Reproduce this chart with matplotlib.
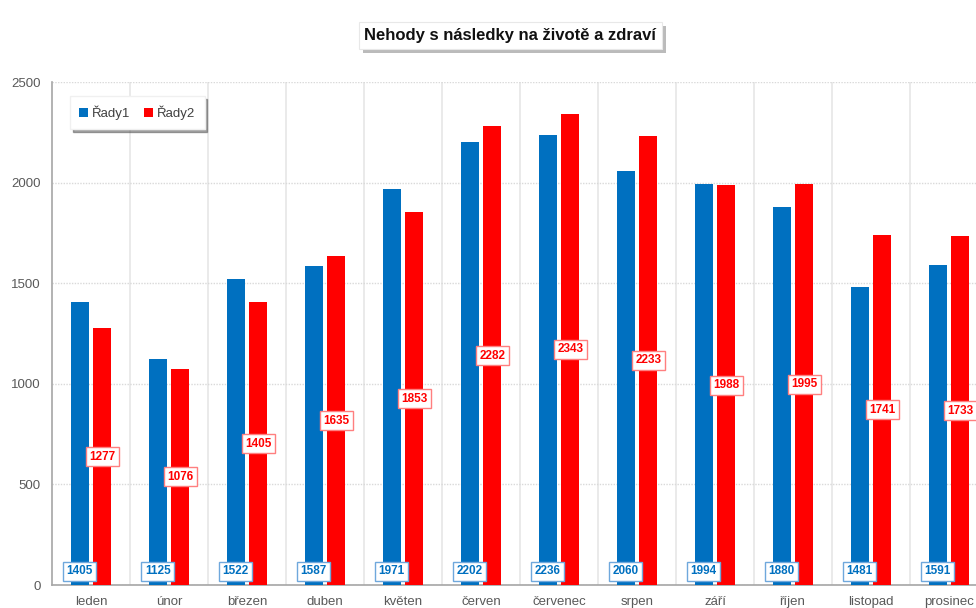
import matplotlib
matplotlib.use("Agg")
import matplotlib.pyplot as plt
from matplotlib.patches import Rectangle
import numpy as np

plt.rcParams['font.family'] = ['Liberation Sans', 'DejaVu Sans']

months = ["leden", "únor", "březen", "duben", "květen", "červen",
          "červenec", "srpen", "září", "říjen", "listopad", "prosinec"]
rady1 = [1405, 1125, 1522, 1587, 1971, 2202, 2236, 2060, 1994, 1880, 1481, 1591]
rady2 = [1277, 1076, 1405, 1635, 1853, 2282, 2343, 2233, 1988, 1995, 1741, 1733]
yticks = [0, 500, 1000, 1500, 2000, 2500]

BLUE = "#0070C0"
RED = "#FF0000"

fig = plt.figure(figsize=(9.76, 6.08), dpi=100)
ax = fig.add_axes([0.0533, 0.0378, 0.959, 0.827])

x = np.arange(len(months))
w = 0.23
off = 0.145
ax.bar(x - off, rady1, width=w, color=BLUE, label="Řady1", zorder=3)
ax.bar(x + off, rady2, width=w, color=RED, label="Řady2", zorder=3)

ax.set_xlim(-0.5, len(months) - 0.5)
ax.set_ylim(0, 2500)
ax.set_yticks(yticks)
ax.set_xticks(x)
ax.set_xticklabels(months)
ax.tick_params(axis="both", length=0, colors="#595959", labelsize=9.5)
ax.tick_params(axis="x", pad=8)
ax.tick_params(axis="y", pad=8)

# gridlines: dotted horizontals, solid verticals between categories
ax.yaxis.grid(True, color="#D9D9D9", linestyle=(0, (1, 1)), linewidth=1, zorder=0)
for b in np.arange(0.5, len(months) - 0.5, 1.0):
    ax.axvline(b, color="#E6E6E6", linewidth=1.2, zorder=0)

for s in ["top", "right"]:
    ax.spines[s].set_visible(False)
ax.spines["left"].set_color("#A6A6A6")
ax.spines["bottom"].set_color("#A6A6A6")
ax.spines["left"].set_linewidth(1.2)
ax.spines["bottom"].set_linewidth(1.2)

# value labels: blue at the base, red at mid-bar
for xi, v in zip(x, rady1):
    ax.annotate(f"{v}", xy=(xi - off, 0), xytext=(0, 10), textcoords="offset points",
                ha="center", va="center", fontsize=8.5, fontweight="bold", color=BLUE,
                bbox=dict(boxstyle="square,pad=0.3", fc="white", ec="#6FA8DC", lw=1),
                zorder=5)
for xi, v in zip(x, rady2):
    ax.text(xi + off, v / 2, f"{v}", ha="center", va="center", fontsize=8.5,
            fontweight="bold", color=RED,
            bbox=dict(boxstyle="square,pad=0.3", fc="white", ec="#FF7F7F", lw=1),
            zorder=5)

leg = ax.legend(loc="upper left", bbox_to_anchor=(0.012, 0.985), ncol=2, frameon=True,
                fontsize=9.5, handlelength=0.7, handleheight=0.7, handletextpad=0.3,
                columnspacing=1.0, borderpad=0.7, fancybox=False, shadow=True)
leg.get_frame().set_edgecolor("#F0F0F0")
for t in leg.get_texts():
    t.set_color("#404040")

title = fig.text(0.523, 0.942, "Nehody s následky na životě a zdraví", ha="center",
                 va="center", fontsize=12, fontweight="bold", color="#111111",
                 bbox=dict(boxstyle="square,pad=0.35", fc="white", ec="#E8E8E8", lw=0.8),
                 zorder=3)

# drop shadow behind the title box
fig.canvas.draw()
tb = title.get_bbox_patch().get_window_extent().transformed(fig.transFigure.inverted())
fig.patches.append(Rectangle((tb.x0 + 0.004, tb.y0 - 0.007), tb.width, tb.height,
                             transform=fig.transFigure, fc="#BBBBBB", ec="none",
                             zorder=1))

fig.savefig("out.png", dpi=100)
